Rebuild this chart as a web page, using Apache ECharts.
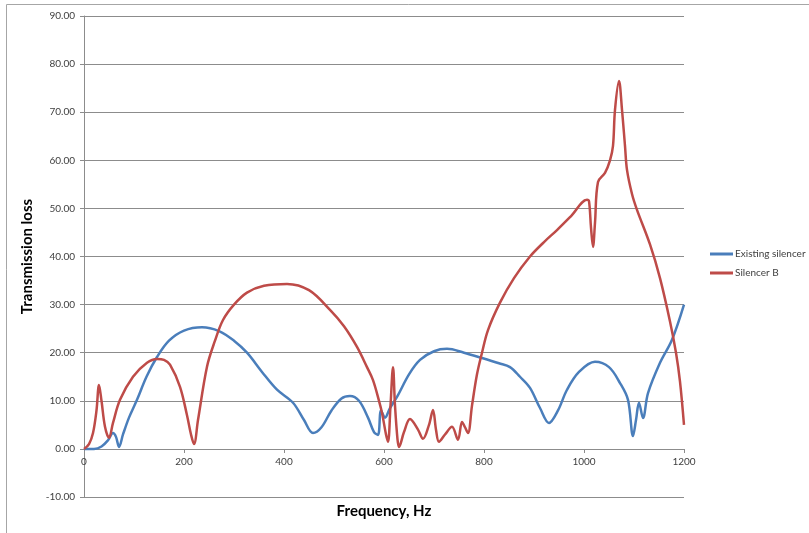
<!DOCTYPE html>
<html>
<head>
<meta charset="utf-8">
<script src="https://cdn.jsdelivr.net/npm/echarts@6/dist/echarts.min.js"></script>
<style>html,body{margin:0;padding:0;background:#fff;}#c{width:809px;height:533px;}</style>
</head>
<body>
<div id="c"></div>
<script>
var freqExisting = [0,20,35,48,58,64,70,78,90,106,125,146,170,200,236,270,300,326,356,386,418,440,458,475,495,515,532,550,568,580,588,594,602,612,626,650,672,700,726,760,796,830,852,872,892,912,930,948,966,990,1022,1050,1072,1088,1098,1104,1110,1118,1128,1152,1176,1200];
var lossExisting = [0,0,0.5,1.8,3.3,2.5,0.4,3,6.5,10.2,15,19.1,22.5,24.6,25.3,24.5,22.5,20,16,12.3,9.6,6,3.3,4.5,8,10.5,11,10,6.5,3.5,2.9,8,6.5,8.5,10.8,15.5,18.5,20.3,20.8,20,18.9,17.8,17,15,12.7,8.5,5.4,8,12.3,16,18.1,17,13.7,10.2,2.7,6,9.6,6.4,11.6,17.9,22.7,30];
var freqB = [0,10,18,25,30,35,42,50,58,72,98,126,146,160,172,192,206,214,220,228,246,262,278,300,326,360,406,450,492,520,546,566,578,590,596,604,608,613,618,622,627,630,640,652,668,678,690,698,704,710,722,736,748,756,762,768,776,786,796,808,832,860,892,920,946,975,1006,1010,1014,1018,1022,1028,1042,1052,1058,1062,1070,1076,1082,1086,1096,1106,1132,1152,1172,1184,1192,1200];
var lossB = [0,1,3.3,8,13.3,10,4.6,2.3,5.4,10.2,15,17.9,18.7,18.5,17.5,12.9,7,3,1,6,17.1,22.5,26.8,30,32.5,33.9,34.3,33,28.9,25.5,21.2,17,14.3,10,7.5,3,1.5,9,17,9,2,0.4,3.5,6.2,4,2.1,5,8.1,4,1.5,3,4.6,1.9,5.6,4.5,3.3,9,15.5,20,24.7,30.4,35.5,40,43,45.5,48.5,51.8,51.5,46,42,47,55.5,57.4,60,63,70.5,76.5,70.5,63,58,53,49.7,42.5,35.5,26.5,20,14,5];
var seriesNames = ['Existing silencer','Silencer B'];
var yTicks = [-10,0,10,20,30,40,50,60,70,80,90];
var xTicks = [0,200,400,600,800,1000,1200];
var xTitle = 'Frequency, Hz';
var yTitle = 'Transmission loss';

function pairs(xs, ys){ return xs.map(function(x,i){ return [x, ys[i]]; }); }

var chart = echarts.init(document.getElementById('c'), null, {renderer:'canvas'});
var font = 'Lato, "Open Sans", sans-serif';
chart.setOption({
  animation: false,
  backgroundColor: '#fff',
  textStyle: {fontFamily: font},
  graphic: [
    {type:'rect', shape:{x:6.5,y:4.5,width:900,height:900}, style:{fill:'none', stroke:'#a6a6a6', lineWidth:1}, silent:true},
    {type:'text', style:{text:xTitle, x:384, y:511, align:'center', verticalAlign:'middle', font:'bold 15px ' + font, fill:'#000'}, silent:true}
  ],
  grid: {left:84, right:125, top:16, bottom:36, containLabel:false, outerBoundsMode:'none'},
  legend: {
    orient:'vertical', left:710, top:249, padding:0, itemWidth:23, itemHeight:3, itemGap:9, icon:'rect',
    textStyle:{fontSize:10, color:'#404040', fontFamily:font, padding:[0,0,0,-3]},
    data: seriesNames
  },
  xAxis: {
    type:'value', min:xTicks[0], max:xTicks[xTicks.length-1], interval:200,
    position:'bottom', offset:-48,
    axisLine:{onZero:false, lineStyle:{color:'#8c8c8c', width:1}},
    axisTick:{show:true, length:4, inside:false, lineStyle:{color:'#8c8c8c'}},
    axisLabel:{fontSize:10, color:'#404040', margin:8, fontFamily:font, formatter:function(v){return String(v);}},
    splitLine:{show:false}
  },
  yAxis: {
    type:'value', min:yTicks[0], max:yTicks[yTicks.length-1], interval:10,
    name:yTitle, nameLocation:'middle', nameGap:44, nameRotate:90,
    nameTextStyle:{fontSize:15, fontWeight:'bold', color:'#000', fontFamily:font},
    axisLine:{show:true, onZero:false, lineStyle:{color:'#8c8c8c', width:1}},
    axisTick:{show:true, length:4, lineStyle:{color:'#8c8c8c'}},
    axisLabel:{fontSize:10, color:'#404040', margin:9, fontFamily:font, formatter:function(v){return v.toFixed(2);}},
    splitLine:{show:true, lineStyle:{color:'#8c8c8c', width:1}}
  },
  series: [
    {name:seriesNames[0], type:'line', data:pairs(freqExisting, lossExisting), showSymbol:false, smooth:0.35,
     lineStyle:{color:'#4a7ebb', width:2.5}, itemStyle:{color:'#4a7ebb'}},
    {name:seriesNames[1], type:'line', data:pairs(freqB, lossB), showSymbol:false, smooth:0.35,
     lineStyle:{color:'#be4b48', width:2.5}, itemStyle:{color:'#be4b48'}}
  ]
});
</script>
</body>
</html>
